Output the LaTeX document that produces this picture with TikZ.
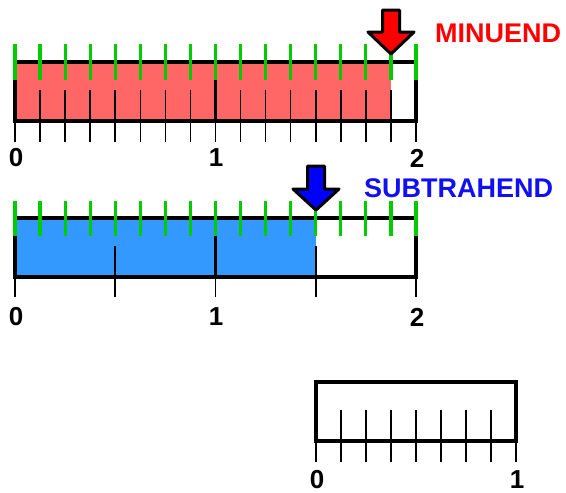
\documentclass[tikz,border=0pt]{standalone}
\usepackage{fontspec}
\setmainfont{Liberation Sans}
\definecolor{barred}{HTML}{FF6666}
\definecolor{barblue}{HTML}{3399FF}
\definecolor{tickgreen}{HTML}{00CC00}
\definecolor{txtred}{HTML}{FF0000}
\definecolor{txtblue}{HTML}{1010F0}
\definecolor{arrred}{HTML}{FF0000}
\definecolor{arrblue}{HTML}{0000FF}
\tikzset{
  border/.style={line width=3.5pt, line cap=rect},
  edge/.style={line width=3.5pt},
  thintick/.style={line width=1.6pt},
  greentick/.style={line width=3.2pt, tickgreen},
  num/.style={font=\fontsize{26}{26}\selectfont\bfseries, inner sep=0pt},
  lbl/.style={font=\fontsize{27}{27}\selectfont\bfseries, inner sep=0pt, anchor=west},
  pointer/.style={draw=black, line width=3pt, line join=round},
}
\begin{document}
\begin{tikzpicture}[x=1pt,y=-1pt]
\useasboundingbox (0,0) rectangle (566,493);
% ---------- MINUEND bar ----------
\def\u{200.5}
\fill[barred] (15,62) rectangle (391,121);
\draw[border] (15,62) rectangle (416,121);
\foreach \k in {1,...,15}{
  \draw[thintick] ({15+\k*\u/8},90) -- ({15+\k*\u/8},142);
}
\foreach \k in {0,1,2}{
  \draw[edge] ({15+\k*\u},80) -- ({15+\k*\u},121);
  \draw[thintick] ({15+\k*\u},121) -- ({15+\k*\u},142);
}
\foreach \k in {0,...,16}{
  \draw[greentick] ({15+\k*\u/8},44) -- ({15+\k*\u/8},80);
}
\node[num] (a0) at (16,158) {0};
\node[num] (a1) at (216,158) {1};
\node[num] (a2) at (417,158) {2};
\draw[pointer, fill=arrred] (382.5,10) -- (399.5,10) -- (399.5,32) -- (414,32) -- (391,54) -- (368,32) -- (382.5,32) -- cycle;
\node[lbl, text=txtred] (minu) at (435,33) {MINUEND};
% ---------- SUBTRAHEND bar ----------
\fill[barblue] (15,218) rectangle (316,277);
\draw[border] (15,218) rectangle (416,277);
\foreach \k in {4,12}{
  \draw[thintick] ({15+\k*\u/8},246) -- ({15+\k*\u/8},297);
}
\foreach \k in {0,1,2}{
  \draw[edge] ({15+\k*\u},236) -- ({15+\k*\u},277);
  \draw[thintick] ({15+\k*\u},277) -- ({15+\k*\u},297);
}
\foreach \k in {0,...,16}{
  \draw[greentick] ({15+\k*\u/8},201) -- ({15+\k*\u/8},236);
}
\node[num] (b0) at (16,317) {0};
\node[num] (b1) at (216,317) {1};
\node[num] (b2) at (417,317) {2};
\draw[pointer, fill=arrblue] (307.5,166) -- (324.5,166) -- (324.5,189) -- (339,189) -- (316,210) -- (293,189) -- (307.5,189) -- cycle;
\node[lbl, text=txtblue] (subt) at (364,188) {SUBTRAHEND};
% ---------- unit bar ----------
\draw[border] (316,382) rectangle (516,441);
\foreach \k in {1,...,7}{
  \draw[thintick] ({316+\k*25},410) -- ({316+\k*25},462);
}
\foreach \k in {0,1}{
  \draw[thintick] ({316+\k*200},441) -- ({316+\k*200},462);
}
\node[num] (c0) at (317,480) {0};
\node[num] (c1) at (517,480) {1};
\end{tikzpicture}
\end{document}
